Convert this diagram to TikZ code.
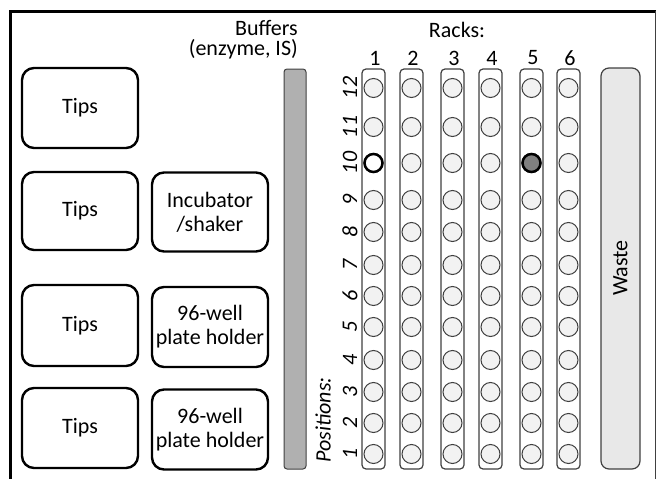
\documentclass[tikz,border=0pt]{standalone}
\usepackage{fontspec}
\setmainfont{Carlito}
\definecolor{wellfill}{HTML}{F2F2F2}
\definecolor{wellline}{HTML}{404040}
\definecolor{bufferfill}{HTML}{B0B0B0}
\definecolor{wastefill}{HTML}{E8E8E8}
\definecolor{darkwell}{HTML}{808080}
\begin{document}
\begin{tikzpicture}[x=1pt,y=1pt,
  font=\fontsize{22}{24}\selectfont,
  box/.style={draw, line width=2.4pt, rounded corners=12pt, minimum width=116pt, minimum height=80pt, align=center, inner sep=0pt},
  lbl/.style={inner sep=0pt},
  poslbl/.style={inner sep=0pt, rotate=90, font=\fontsize{22}{24}\selectfont\itshape},
  well/.style={circle, draw=wellline, fill=wellfill, line width=1pt, minimum size=19pt, inner sep=0pt},
  rackbar/.style={draw=wellline, fill=white, line width=1.2pt, rounded corners=4pt, minimum width=23pt, minimum height=400pt, inner sep=0pt},
  selwell/.style={circle, draw=black, line width=2.5pt, minimum size=18pt, inner sep=0pt}
]
\useasboundingbox (0,0) rectangle (657,-479);
\clip (0,0) rectangle (657,-479);
% frame
\draw[line width=3pt] (10,-490) -- (10,-11) -- (656,-11);
\draw[line width=1.2pt, draw=wellline] (655.5,-11) -- (655.5,-490);

% left boxes
\node[box, minimum height=80pt] (tips1) at (80,-108) {Tips};
\node[box, minimum height=78pt] (tips2) at (80,-211) {Tips};
\node[box, minimum height=81pt] (tips3) at (80,-325.5) {Tips};
\node[box, minimum height=80pt] (tips4) at (80,-428) {Tips};
\node[box, minimum height=79pt] (incub) at (210,-212) {Incubator\\/shaker};
\node[box, minimum height=80pt] (plate1) at (210,-327) {96-well\\plate holder};
\node[box, minimum height=80pt] (plate2) at (210,-429.5) {96-well\\plate holder};

% buffers
\node[lbl, anchor=base east] (buf1) at (298,-35) {Buffers};
\node[lbl, anchor=base east] (buf2) at (298,-56) {(enzyme, IS)};
\node[draw=wellline, fill=bufferfill, line width=1pt, rounded corners=3pt, minimum width=22pt, minimum height=400pt, inner sep=0pt] (bufbar) at (295,-269) {};

% racks
\node[lbl] (rackstitle) at (457,-30) {Racks:};
\foreach \r/\x in {1/373.5,2/411.5,3/452.5,4/490.5,5/531.5,6/568.5}{
  \node[rackbar] (rack\r) at (\x,-269) {};
  \node[lbl] (racknum\r) at (\x+1.5,-58) {\r};
}
\foreach \p/\y in {12/88,11/127,10/163,9/200,8/232,7/265,6/296,5/327,4/360,3/392,2/423,1/454}{
  \node[poslbl] (pos\p) at (350,-\y) {\p};
  \foreach \r/\x in {1/373.5,2/411.5,3/452.5,4/490.5,5/531.5,6/568.5}{
    \node[well] (w\r-\p) at (\x,-\y) {};
  }
}
\node[selwell, fill=white] (sel1) at (373.5,-163) {};
\node[selwell, fill=darkwell] (sel5) at (531.5,-163) {};
\node[poslbl] (positions) at (323,-420) {Positions:};

% waste
\node[draw=wellline, fill=wastefill, line width=1.2pt, rounded corners=8pt, minimum width=39pt, minimum height=401pt, inner sep=0pt] (waste) at (620.5,-268.5) {};
\node[lbl, rotate=90] (wastetext) at (620.5,-268) {Waste};
\end{tikzpicture}
\end{document}
